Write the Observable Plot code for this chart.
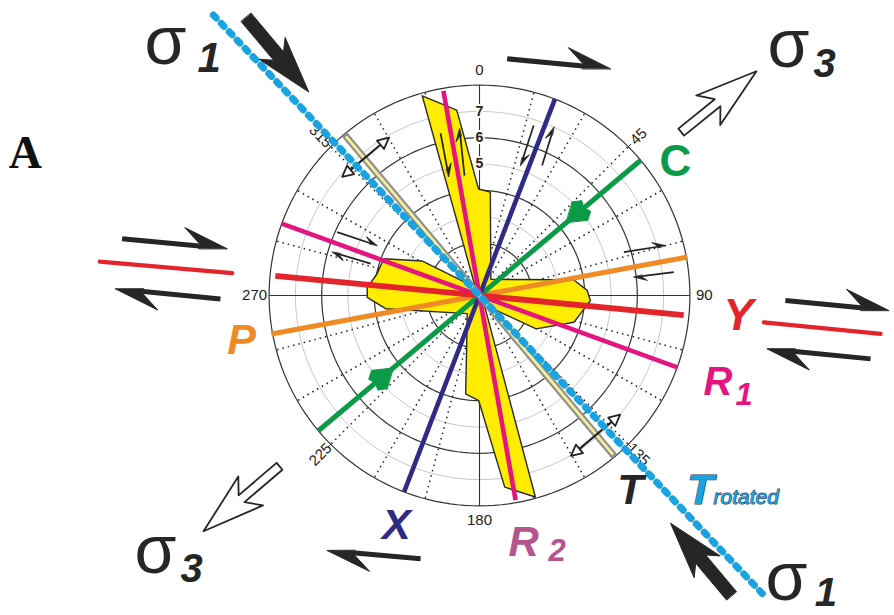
<!DOCTYPE html>
<html><head><meta charset="utf-8">
<script src="https://cdn.jsdelivr.net/npm/d3@7"></script>
<script src="https://cdn.jsdelivr.net/npm/@observablehq/plot@0.6"></script>
<style>html,body{margin:0;padding:0;background:#fff}</style>
</head><body><div id="chart"></div>
<script>
// ================= DATA =================
// Rose diagram outline: azimuth (deg, clockwise from N) and frequency
const roseAzimuths = [344, 353, 359.5, 6, 35, 80.5, 87.3, 92.6, 100.3, 105.8, 120.5, 153,
                      164.5, 172.5, 180.4, 188, 214, 262, 269, 274, 282, 291, 301, 333];
const roseValues   = [7.9, 7.1, 4.05, 3.95, 0.75, 3.63, 4.1, 4.22, 3.9, 3.73, 2.5, 0.4,
                      7.95, 7.35, 4.0, 3.78, 0.83, 3.6, 4.27, 4.28, 3.98, 3.9, 2.55, 0.35];
// Fracture sets (azimuths in degrees)
const fractureNames    = ["P", "C", "X", "R1", "Y", "R2", "T"];
const fractureAzimuths = [79.5, 50, 21, 110, 95.5, 170, 140];
const rotatedName = "Trotated";
const rotatedAzimuth = 136.5;
// Polar grid
const ringValues = [1, 2, 3, 4, 5, 6, 7, 8];
const radialTickLabels = [5, 6, 7];
const angleLabels = [0, 45, 90, 135, 180, 225, 270, 315];

// ================= LAYOUT =================
const W = 894, H = 615, CX = 479, CY = 295, U = 26.3;   // U: pixels per frequency unit
const SANS = "Liberation Sans, Arial, Helvetica, sans-serif";
const SERIF = "Liberation Serif, Times New Roman, serif";
const rad = d => d * Math.PI / 180;
const pol = (az, r) => [r * Math.sin(rad(az)), r * Math.cos(rad(az))];
const RMAX = d3.max(ringValues);

const style = {
  P:  {stroke: "#F08A24", w: 5.0, len: 8.05},
  C:  {stroke: "#0B9A48", w: 5.0, len: 8.0},
  X:  {stroke: "#2F2A85", w: 4.6, len: 8.0},
  R1: {stroke: "#E5147F", w: 4.6, len: 8.0},
  Y:  {stroke: "#E3242B", w: 5.8, len: 7.8},
  R2: {stroke: "#E5147F", w: 4.6, len: 7.9},
  T:  {stroke: "#8E8E8E", w: 7.0, len: 8.0}
};
const az = Object.fromEntries(fractureNames.map((n, i) => [n, fractureAzimuths[i]]));

// grid geometry
const ringPts = ringValues.flatMap(v => d3.range(0, 361, 2).map(a => { const [x, y] = pol(a, v); return {x, y, v}; }));
const spokes = d3.range(0, 360, 15);
const dotted = spokes.filter(a => a % 90 !== 0);
const cardinal = spokes.filter(a => a % 90 === 0);

// rose polygon
const rose = roseAzimuths.map((a, i) => { const [x, y] = pol(a, roseValues[i]); return {x, y}; });

// filled arrow shapes (sizes in px)
function arrowShape(t, p, sw, hw, hl, nt, id) {
  const dx = p[0] - t[0], dy = p[1] - t[1], L = Math.hypot(dx, dy), ux = dx / L, uy = dy / L, nx = -uy, ny = ux;
  const pt = (b, along, side) => ({x: b[0] + (ux * along + nx * side) / U, y: b[1] + (uy * along + ny * side) / U, id});
  return [pt(t, 0, sw / 2), pt(p, -nt, sw / 2), pt(p, -hl, hw / 2), pt(p, 0, 0),
          pt(p, -hl, -hw / 2), pt(p, -nt, -sw / 2), pt(t, 0, -sw / 2)];
}
function halfArrow(s, sw, bb, bs, jb, id) {
  const [tx, ty, px, py] = s, dx = px - tx, dy = py - ty, L = Math.hypot(dx, dy), ux = dx / L, uy = dy / L, nx = -uy, ny = ux;
  const p = (a, b) => ({x: px + (ux * a + nx * b) / U, y: py + (uy * a + ny * b) / U, id});
  const j = p(-jb, 0);
  return {shaft: {x1: tx, y1: ty, x2: j.x, y2: j.y},
          barb: [p(0, 0), p(-bb, bs), p(-jb, sw / 2), p(-jb, -sw / 2)]};
}
function doubleArrow(c, dirAz, half, hl, hw, id) {
  const [ux, uy] = pol(dirAz, 1), nx = -uy, ny = ux;
  const end = s => [c[0] + s * ux * half, c[1] + s * uy * half];
  const head = (s, k) => { const e = end(s); const q = (a, b) => ({x: e[0] + (s * ux * a + nx * b) / U, y: e[1] + (s * uy * a + ny * b) / U, id: id + k});
    return [q(0, 0), q(-hl, hw / 2), q(-hl, -hw / 2)]; };
  const a = end(1), b = end(-1);
  return {shaft: {x1: a[0] - ux * hl / U, y1: a[1] - uy * hl / U, x2: b[0] + ux * hl / U, y2: b[1] + uy * hl / U},
          heads: [...head(1, "a"), ...head(-1, "b")]};
}

// stress arrows (placed along T and C directions)
const sigma1 = [arrowShape(pol(az.T + 180, 13.8), pol(az.T + 180, 10.1), 13, 34, 57, 47, "s1a"),
                arrowShape(pol(az.T, 14.9), pol(az.T, 11.3), 13, 34, 57, 47, "s1b")].flat();
const sigma3 = [arrowShape(pol(az.C + 1, 9.87), pol(az.C + 1, 13.55), 9, 38, 62, 50, "s3a"),
                arrowShape(pol(az.C + 179.5, 10.0), pol(az.C + 179.5, 13.8), 9, 38, 62, 50, "s3b")].flat();

// shear-sense half arrows [tailx, taily, tipx, tipy] in plot units
const outerShear = [[-13.59, 2.16, -9.60, 1.78], [-9.85, -0.13, -13.84, 0.25],
                    [11.63, -0.19, 15.56, -0.57], [14.87, -2.41, 10.94, -2.03],
                    [1.05, 9.00, 4.98, 8.62], [-2.24, -10.01, -5.79, -9.70]].map((s, i) => halfArrow(s, 5, 44, 17, 28, "o" + i));
const innerShear = [[-1.48, 6.17, -1.17, 4.52], [-0.57, 4.56, -0.76, 6.35],
                    [2.06, 6.46, 1.56, 4.94], [2.38, 4.94, 2.83, 6.40],
                    [-5.41, 2.41, -3.89, 1.90], [-4.14, 1.21, -5.60, 1.65],
                    [5.49, 1.65, 7.07, 1.90], [7.39, 0.89, 5.87, 0.70]].map((s, i) => halfArrow(s, 1.7, 13, 5, 8, "i" + i));
const outerRed = [[-14.44, 1.29, -9.40, 0.85], [10.81, -1.02, 15.25, -1.46]].map(([x1, y1, x2, y2]) => ({x1, y1, x2, y2}));
const dbl = [doubleArrow(pol(az.T + 180.5, 6.81), az.T - 90, 1.16, 11, 11, "d1"),
             doubleArrow(pol(az.T + 0.3, 6.91), az.T - 90, 1.22, 11, 11, "d2")];

// C-line arrowheads (pointing to centre)
function kite(r, a, id) {
  const c = pol(a, r), [ux, uy] = pol(a + 180, 1), nx = -uy, ny = ux;
  const q = (al, sd) => ({x: c[0] + (ux * al + nx * sd) / U, y: c[1] + (uy * al + ny * sd) / U, id});
  return [q(14, 0), q(-4, 12), q(-12, 7), q(-9, 0), q(-12, -7), q(-4, -12)];
}
const cMarks = [...kite(4.84, az.C, "k1"), ...kite(4.82, az.C + 180, "k2")];

const txt = (t, x, y, o) => Plot.text([{x, y, t}], {x: "x", y: "y", text: "t", lineAnchor: "bottom", textAnchor: "start", fontFamily: SANS, ...o});
const fracLine = n => Plot.link([n], {
  x1: d => pol(az[d] + 180, style[d].len)[0], y1: d => pol(az[d] + 180, style[d].len)[1],
  x2: d => pol(az[d], style[d].len)[0], y2: d => pol(az[d], style[d].len)[1],
  stroke: style[n].stroke, strokeWidth: style[n].w});

const rot = d => { let r = (((d - 90) % 180) + 180) % 180; if (r > 90) r -= 180; return d % 90 === 0 ? 0 : r; };

const plot = Plot.plot({
  width: W, height: H, margin: 0,
  x: {domain: [-CX / U, (W - CX) / U], axis: null},
  y: {domain: [-(H - CY) / U, CY / U], axis: null},
  style: {background: "#fff", fontFamily: SANS, overflow: "visible"},
  marks: [
    Plot.line(ringPts.filter(d => d.v % 2 === 1), {x: "x", y: "y", z: "v", stroke: "#c8c8c8", strokeWidth: 1}),
    Plot.link(dotted, {x1: a => pol(a, 0.8)[0], y1: a => pol(a, 0.8)[1], x2: a => pol(a, RMAX)[0], y2: a => pol(a, RMAX)[1],
      stroke: "#222", strokeWidth: 1.5, strokeDasharray: "1.5 4"}),
    Plot.line(ringPts.filter(d => d.v % 2 === 0), {x: "x", y: "y", z: "v", stroke: "#333", strokeWidth: 1.2}),
    Plot.link(cardinal, {x1: 0, y1: 0, x2: a => pol(a, RMAX)[0], y2: a => pol(a, RMAX)[1], stroke: "#333", strokeWidth: 1.1}),
    Plot.link(angleLabels.filter(a => a % 90), {x1: a => pol(a, RMAX)[0], y1: a => pol(a, RMAX)[1], x2: a => pol(a, RMAX + 0.15)[0], y2: a => pol(a, RMAX + 0.15)[1], stroke: "#333", strokeWidth: 1}),
    Plot.line(rose, {x: "x", y: "y", curve: "linear-closed", fill: "#FFEC00", stroke: "#2a2a2a", strokeWidth: 1.4}),
    fracLine("P"), fracLine("C"), fracLine("X"), fracLine("R1"), fracLine("Y"), fracLine("R2"), fracLine("T"),
    Plot.link(["T"], {x1: d => pol(az.T + 180, 7.9)[0], y1: d => pol(az.T + 180, 7.9)[1], x2: d => pol(az.T, 7.9)[0], y2: d => pol(az.T, 7.9)[1], stroke: "#F4EE9C", strokeWidth: 2.8}),
    Plot.line(cMarks, {x: "x", y: "y", z: "id", curve: "linear-closed", fill: style.C.stroke, stroke: style.C.stroke, strokeWidth: 1}),
    // inner shear arrows
    Plot.link(innerShear.map(d => d.shaft), {x1: "x1", y1: "y1", x2: "x2", y2: "y2", stroke: "#222", strokeWidth: 1.7}),
    Plot.line(innerShear.flatMap(d => d.barb), {x: "x", y: "y", z: "id", curve: "linear-closed", fill: "#222", stroke: "#222", strokeWidth: 0.8}),
    // double arrows perpendicular to T
    Plot.link(dbl.map(d => d.shaft), {x1: "x1", y1: "y1", x2: "x2", y2: "y2", stroke: "#222", strokeWidth: 2.2}),
    Plot.line(dbl.flatMap(d => d.heads), {x: "x", y: "y", z: "id", curve: "linear-closed", fill: "#fff", stroke: "#222", strokeWidth: 1.8}),
    // radial tick labels
    Plot.text(radialTickLabels, {x: v => pol(0, v)[0], y: v => pol(0, v)[1], text: d => String(d), fontWeight: "bold", fontSize: 14,
      fill: "#222", stroke: "#fff", strokeWidth: 4, paintOrder: "stroke"}),
    // azimuth labels
    Plot.text(angleLabels, {x: a => pol(a, 8.55)[0], y: a => pol(a, 8.55)[1], text: d => String(d), rotate: rot, fontSize: 15, fill: "#222"}),
    // rotated T (dashed blue)
    Plot.link([rotatedName], {x1: pol(rotatedAzimuth + 180, 14.7)[0], y1: pol(rotatedAzimuth + 180, 14.7)[1],
      x2: pol(rotatedAzimuth, 15.8)[0], y2: pol(rotatedAzimuth, 15.8)[1],
      stroke: "#1AA3E0", strokeWidth: 7, strokeDasharray: "4 7.5", strokeLinecap: "round"}),
    // stress arrows
    Plot.line(sigma1, {x: "x", y: "y", z: "id", curve: "linear-closed", fill: "#262626", stroke: "#262626", strokeWidth: 1}),
    Plot.line(sigma3, {x: "x", y: "y", z: "id", curve: "linear-closed", fill: "#fff", stroke: "#262626", strokeWidth: 1.8}),
    // outer shear arrows and Y traces
    Plot.link(outerRed, {x1: "x1", y1: "y1", x2: "x2", y2: "y2", stroke: style.Y.stroke, strokeWidth: 4.2, strokeLinecap: "round"}),
    Plot.link(outerShear.map(d => d.shaft), {x1: "x1", y1: "y1", x2: "x2", y2: "y2", stroke: "#262626", strokeWidth: 5}),
    Plot.line(outerShear.flatMap(d => d.barb), {x: "x", y: "y", z: "id", curve: "linear-closed", fill: "#262626", stroke: "#262626", strokeWidth: 1}),
    // sigma labels
    txt("σ", -12.74, 8.82, {fontSize: 68, fill: "#262626"}),
    txt("1", -10.72, 8.48, {fontSize: 42, fontWeight: "bold", fontStyle: "italic", fill: "#262626"}),
    txt("σ", 10.95, 8.67, {fontSize: 68, fill: "#262626"}),
    txt("3", 12.70, 8.29, {fontSize: 40, fontWeight: "bold", fontStyle: "italic", fill: "#262626"}),
    txt("σ", -13.12, -10.57, {fontSize: 68, fill: "#262626"}),
    txt("3", -11.37, -10.91, {fontSize: 40, fontWeight: "bold", fontStyle: "italic", fill: "#262626"}),
    txt("σ", 10.87, -11.58, {fontSize: 68, fill: "#262626"}),
    txt("1", 12.75, -11.82, {fontSize: 40, fontWeight: "bold", fontStyle: "italic", fill: "#262626"}),
    // fracture labels
    txt("C", 7.45, 4.56, {textAnchor: "middle", fontSize: 44, fontWeight: "bold", fill: style.C.stroke}),
    txt("Y", 9.85, -1.33, {textAnchor: "middle", fontSize: 45, fontWeight: "bold", fontStyle: "italic", fill: style.Y.stroke}),
    txt("R", 8.52, -3.80, {fontSize: 40, fontWeight: "bold", fontStyle: "italic", fill: style.R1.stroke}),
    txt("1", 9.73, -4.18, {fontSize: 31, fontWeight: "bold", fontStyle: "italic", fill: style.R1.stroke}),
    txt("P", -9.05, -2.21, {textAnchor: "middle", fontSize: 43, fontWeight: "bold", fontStyle: "italic", fill: style.P.stroke}),
    txt("X", -3.16, -9.24, {textAnchor: "middle", fontSize: 43, fontWeight: "bold", fontStyle: "italic", fill: style.X.stroke}),
    txt("R", 1.1, -9.89, {fontSize: 42, fontWeight: "bold", fontStyle: "italic", fill: "#B4558E"}),
    txt("2", 2.62, -10.08, {fontSize: 31, fontWeight: "bold", fontStyle: "italic", fill: "#B4558E"}),
    txt("T", 5.74, -7.91, {textAnchor: "middle", fontSize: 43, fontWeight: "bold", fontStyle: "italic", fill: "#262626"}),
    txt("T", 8.40, -7.91, {textAnchor: "middle", fontSize: 43, fontWeight: "bold", fontStyle: "italic", fill: "#1AA3E0", stroke: "#1d3557", strokeWidth: 1.2, paintOrder: "stroke"}),
    txt("rotated", 8.90, -7.91, {fontSize: 21, fontStyle: "italic", fill: "#1AA3E0", stroke: "#1d3557", strokeWidth: 1, paintOrder: "stroke"}),
    txt("A", -17.9, 4.83, {fontSize: 46, fontWeight: "bold", fontFamily: SERIF, fill: "#111"})
  ]
});
document.getElementById("chart").append(plot);
</script>
</body></html>
